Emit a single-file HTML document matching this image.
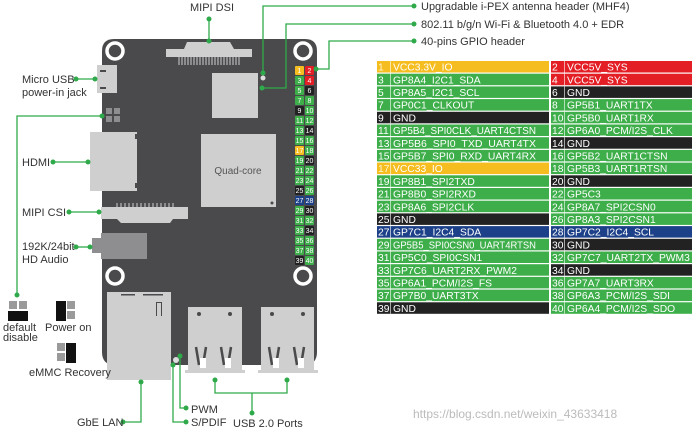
<!DOCTYPE html>
<html><head><meta charset="utf-8"><style>
html,body{margin:0;padding:0;background:#fff;}
svg{display:block;}
text{font-family:"Liberation Sans",sans-serif;}
.l{font-size:11px;fill:#333;}
.t{font-size:10.3px;fill:#fff;}
</style></head><body>
<svg width="692" height="433" viewBox="0 0 692 433" xmlns="http://www.w3.org/2000/svg">
<path d="M114 39 H305 Q317 39 317 51 V352 Q317 365 304 365 H115 Q102 365 102 352 V51 Q102 39 114 39 Z" fill="#4a4a4c"/>
<g fill="none" stroke="#fff" stroke-width="3.5">
<circle cx="115" cy="51" r="8"/><circle cx="303" cy="51" r="8"/>
<circle cx="115" cy="276" r="8"/><circle cx="303" cy="276" r="8"/>
</g>
<g fill="#cfcfcf">
<path d="M166 49 H184 L187 42 H230 L234 49 H252 V57 H166 Z"/>
<rect x="212" y="73" width="46" height="45"/>
<rect x="201" y="134" width="75" height="73"/>
<rect x="97" y="65" width="20" height="28"/>
<rect x="90" y="132" width="47" height="59"/>
<path d="M101 207 H188 V219 H173 L170 223 H121 L117 219 H101 Z"/>
<rect x="107" y="292" width="64" height="88"/>
<rect x="188" y="307" width="54" height="64"/>
<rect x="261" y="307" width="53" height="64"/>
<rect x="185" y="370" width="60" height="3"/>
<rect x="258" y="370" width="60" height="3"/>
</g>
<g stroke="#cfcfcf" stroke-width="1"><path d="M179 57 V65 M182 57 V65 M185 57 V65 M188 57 V65 M191 57 V65 M194 57 V65 M197 57 V65 M200 57 V65 M203 57 V65 M206 57 V65 M209 57 V65 M212 57 V65 M215 57 V65 M218 57 V65 M221 57 V65 M224 57 V65 M227 57 V65 M230 57 V65 M233 57 V65 M236 57 V65 M239 57 V65"/></g>
<g stroke="#cfcfcf" stroke-width="1"><path d="M117 207 V203 M121 207 V203 M125 207 V203 M129 207 V203 M133 207 V203 M137 207 V203 M141 207 V203 M145 207 V203 M149 207 V203 M153 207 V203 M157 207 V203 M161 207 V203 M165 207 V203 M169 207 V203 M173 207 V203"/></g>
<g fill="#4a4a4c"><rect x="100" y="70" width="6" height="2"/><rect x="100" y="87" width="6" height="2"/>
<rect x="135" y="134" width="3" height="5"/><rect x="135" y="183" width="3" height="5"/>
<circle cx="199" cy="314" r="2"/><circle cx="230" cy="314" r="2"/><circle cx="272" cy="314" r="2"/><circle cx="303" cy="314" r="2"/>
<rect x="121" y="294" width="14" height="1.5"/><rect x="143" y="294" width="20" height="1.5"/>
<path d="M156 302 h6 v14 h-1 v-13 h-4 v13 h-1z"/>
<circle cx="272" cy="203" r="1.5"/>
</g>
<g stroke="#4a4a4c" stroke-width="2.5" fill="none">
<path d="M196 347 L199 365 M206 347 L203 365 M221 347 L224 365 M231 347 L228 365 M269 347 L272 365 M279 347 L276 365 M294 347 L297 365 M304 347 L301 365"/></g>
<g fill="#fff"><rect x="200" y="358" width="6" height="10"/><rect x="225" y="358" width="6" height="10"/><rect x="273" y="358" width="6" height="10"/><rect x="298" y="358" width="6" height="10"/></g>
<path d="M92 238 H101 V233 H147 V259 H101 V253 H92 Z" fill="#8e8e90"/>
<g fill="#8e8e90"><rect x="106" y="108" width="6" height="6"/><rect x="114" y="108" width="6" height="6"/><rect x="106" y="116" width="6" height="6"/><rect x="114" y="116" width="6" height="6"/></g>
<circle cx="263" cy="78" r="2.5" fill="#ddd"/>
<circle cx="176" cy="360" r="3" fill="#ddd"/>
<text x="238" y="174" text-anchor="middle" style="font-size:10px;fill:#555">Quad-core</text>
<g id="pins" font-size="7" text-anchor="middle"></g>
<g stroke="#2eaa4a" stroke-width="1.3" fill="none">
<path d="M263 73 V6 H414"/><path d="M262 88 H286 V24 H414"/><path d="M316 69 H329 V41 H414"/>
<path d="M209 19 V41"/><path d="M76 79 H95"/><path d="M102 116 H17 V295"/>
<path d="M53 162 H88"/><path d="M69 212 H99"/><path d="M76 247 H90"/>
<path d="M123 422 H141 V382"/><path d="M180 356 V408 H186"/><path d="M173 365 V422 H186"/>
<path d="M215 380 V393 H287 V380 M252 393 V413"/>
</g>
<g fill="#2eaa4a">
<circle cx="263" cy="73" r="2.5"/><circle cx="414" cy="6" r="2.5"/><circle cx="262" cy="88" r="2.5"/><circle cx="414" cy="24" r="2.5"/>
<circle cx="316" cy="69" r="2.5"/><circle cx="414" cy="41" r="2.5"/><circle cx="209" cy="19" r="2.5"/><circle cx="209" cy="41" r="2.5"/>
<circle cx="76" cy="79" r="2.5"/><circle cx="95" cy="79" r="2.5"/><circle cx="102" cy="116" r="2.5"/><circle cx="17" cy="295" r="2.5"/>
<circle cx="53" cy="162" r="2.5"/><circle cx="88" cy="162" r="2.5"/><circle cx="69" cy="212" r="2.5"/><circle cx="99" cy="212" r="2.5"/>
<circle cx="76" cy="247" r="2.5"/><circle cx="90" cy="247" r="2.5"/><circle cx="123" cy="422" r="2.5"/><circle cx="141" cy="382" r="2.5"/>
<circle cx="180" cy="356" r="2.5"/><circle cx="186" cy="408" r="2.5"/><circle cx="173" cy="365" r="2.5"/><circle cx="186" cy="422" r="2.5"/>
<circle cx="215" cy="380" r="2.5"/><circle cx="287" cy="380" r="2.5"/><circle cx="252" cy="413" r="2.5"/>
</g>
<text class="l" x="190" y="11">MIPI DSI</text>
<text class="l" x="421" y="10">Upgradable i-PEX antenna header (MHF4)</text>
<text class="l" x="421" y="28">802.11 b/g/n Wi-Fi  &amp; Bluetooth 4.0 + EDR</text>
<text class="l" x="421" y="45">40-pins GPIO header</text>
<text class="l" x="22" y="83">Micro USB</text><text class="l" x="22" y="96">power-in jack</text>
<text class="l" x="22" y="166">HDMI</text>
<text class="l" x="22" y="216">MIPI CSI</text>
<text class="l" x="22" y="250">192K/24bit</text><text class="l" x="22" y="263">HD Audio</text>
<text class="l" x="3" y="331">default</text><text class="l" x="3" y="341">disable</text>
<text class="l" x="45" y="331">Power on</text>
<text class="l" x="29" y="376">eMMC Recovery</text>
<text class="l" x="77" y="426">GbE LAN</text>
<text class="l" x="191" y="413">PWM</text>
<text class="l" x="191" y="426">S/PDIF</text>
<text class="l" x="233" y="427">USB 2.0 Ports</text>
<text x="413" y="418" style="font-size:12px;fill:#bbb">https://blog.csdn.net/weixin_43633418</text>
<g fill="#9a9a9a"><rect x="9" y="301" width="8" height="8"/><rect x="19" y="301" width="8" height="8"/>
<rect x="67" y="301" width="8" height="8"/><rect x="67" y="311" width="8" height="8"/>
<rect x="57" y="343" width="8" height="8"/><rect x="57" y="353" width="8" height="8"/></g>
<g fill="#111"><rect x="8" y="311" width="20" height="10"/><rect x="56" y="301" width="10" height="20"/><rect x="66" y="343" width="10" height="20"/></g>
<g id="tbl"></g>
</svg>
<script>
var L=[["1","VCC3.3V_IO","y"],["3","GP8A4_I2C1_SDA","g"],["5","GP8A5_I2C1_SCL","g"],["7","GP0C1_CLKOUT","g"],["9","GND","k"],["11","GP5B4_SPI0CLK_UART4CTSN","g"],["13","GP5B6_SPI0_TXD_UART4TX","g"],["15","GP5B7_SPI0_RXD_UART4RX","g"],["17","VCC33_IO","y"],["19","GP8B1_SPI2TXD","g"],["21","GP8B0_SPI2RXD","g"],["23","GP8A6_SPI2CLK","g"],["25","GND","k"],["27","GP7C1_I2C4_SDA","b"],["29","GP5B5_SPI0CSN0_UART4RTSN","g"],["31","GP5C0_SPI0CSN1","g"],["33","GP7C6_UART2RX_PWM2","g"],["35","GP6A1_PCM/I2S_FS","g"],["37","GP7B0_UART3TX","g"],["39","GND","k"]];
var R=[["2","VCC5V_SYS","r"],["4","VCC5V_SYS","r"],["6","GND","k"],["8","GP5B1_UART1TX","g"],["10","GP5B0_UART1RX","g"],["12","GP6A0_PCM/I2S_CLK","g"],["14","GND","k"],["16","GP5B2_UART1CTSN","g"],["18","GP5B3_UART1RTSN","g"],["20","GND","k"],["22","GP5C3","g"],["24","GP8A7_SPI2CSN0","g"],["26","GP8A3_SPI2CSN1","g"],["28","GP7C2_I2C4_SCL","b"],["30","GND","k"],["32","GP7C7_UART2TX_PWM3","g"],["34","GND","k"],["36","GP7A7_UART3RX","g"],["38","GP6A3_PCM/I2S_SDI","g"],["40","GP6A4_PCM/I2S_SDO","g"]];
var C={y:"#f5bd1f",g:"#3dae49",r:"#e31e24",k:"#222222",b:"#1d4189"};
var s="";
for(var i=0;i<20;i++){var y=61+i*12.7;
[[L[i],377,549],[R[i],551,692]].forEach(function(a){var d=a[0],x=a[1],x2=a[2];
s+='<rect x="'+x+'" y="'+y+'" width="'+(x2-x)+'" height="11.5" fill="'+C[d[2]]+'"/>';
s+='<rect x="'+(x+13)+'" y="'+y+'" width="1" height="11.5" fill="rgba(255,255,255,0.6)"/>';
s+='<text class="t" x="'+(x+1)+'" y="'+(y+9.6)+'" style="fill:'+(d[2]=="y"?"#fff6d0":"#fff")+'">'+d[0]+'</text>';
var tl=d[1].length>20?' textLength="143" lengthAdjust="spacingAndGlyphs"':'';
s+='<text class="t" x="'+(x+16)+'" y="'+(y+9.6)+'"'+tl+'>'+d[1]+'</text>';});}
var p="";
for(var i=0;i<20;i++){var y=66+i*10;
[[L[i],295],[R[i],305]].forEach(function(a){var d=a[0],x=a[1];
p+='<rect x="'+x+'" y="'+y+'" width="9" height="9" rx="1" fill="'+C[d[2]]+'"/>';
p+='<text x="'+(x+4.5)+'" y="'+(y+7)+'" style="font-size:7px;fill:#fff">'+d[0]+'</text>';});}
document.getElementById("tbl").innerHTML=s;
document.getElementById("pins").innerHTML=p;
</script>
</body></html>
